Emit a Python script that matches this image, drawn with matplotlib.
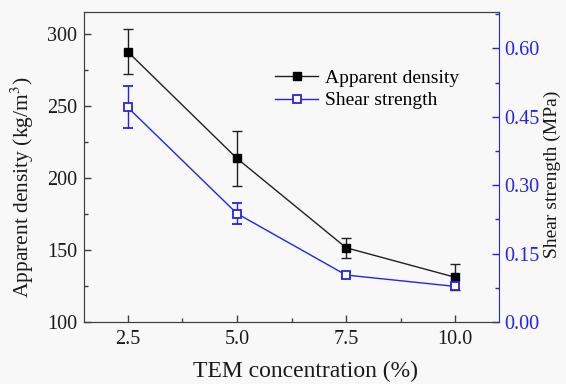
import matplotlib
matplotlib.use("Agg")
import matplotlib.pyplot as plt
from matplotlib.lines import Line2D
from matplotlib.ticker import MultipleLocator

# data
tem = [2.5, 5.0, 7.5, 10.0]
density = [287.5, 213.5, 151.5, 131.0]
density_err = [15.5, 19.0, 7.0, 9.0]
shear = [0.471, 0.238, 0.103, 0.078]
shear_err = [0.046, 0.022, 0.006, 0.006]

plt.rcParams["font.family"] = ["Liberation Serif", "DejaVu Serif"]
plt.rcParams["mathtext.fontset"] = "stix"

BG = "#f8f8f8"
DARK = "#404040"
BLUE = "#2424e8"
TXT = "#1a1a1a"

fig = plt.figure(figsize=(5.66, 3.84), dpi=100, facecolor=BG)
ax = fig.add_axes([84 / 566, 1 - 322 / 384, (499 - 84) / 566, (322 - 12) / 384])
ax.set_facecolor(BG)
ax2 = ax.twinx()

ax.errorbar(tem, density, yerr=density_err, color="#202020", lw=1.0,
            marker="s", ms=6, mfc="black", mec="black",
            capsize=3.5, elinewidth=1.0, capthick=1.0)
ax2.errorbar(tem, shear, yerr=shear_err, color=BLUE, lw=1.0,
             marker="s", ms=6, mfc="white", mec=BLUE, mew=1.3,
             capsize=3.5, elinewidth=1.0, capthick=1.0)

ax.set_xlim(1.5, 11.0)
ax.set_ylim(100, 315)
ax2.set_ylim(0, 0.68)

ax.set_xticks(tem)
ax.set_xticklabels(["2.5", "5.0", "7.5", "10.0"])
ax.xaxis.set_minor_locator(MultipleLocator(1.25))
ax.set_yticks([100, 150, 200, 250, 300])
ax.yaxis.set_minor_locator(MultipleLocator(25))
ax2.set_yticks([0.0, 0.15, 0.30, 0.45, 0.60])
ax2.set_yticklabels(["0.00", "0.15", "0.30", "0.45", "0.60"])
ax2.yaxis.set_minor_locator(MultipleLocator(0.075))

ax.tick_params(axis="both", which="major", direction="in", length=5,
               width=1, colors=DARK, labelsize=14.5, labelcolor=TXT, pad=5)
ax.tick_params(axis="x", which="major", pad=6)
ax.tick_params(axis="both", which="minor", direction="in", length=3,
               width=1, colors=DARK)
ax.tick_params(axis="x", which="both", top=False)
ax2.tick_params(axis="y", which="major", direction="in", length=5, width=1,
                colors=BLUE, labelsize=14.5, pad=4)
ax2.tick_params(axis="y", which="minor", direction="in", length=3, width=1,
                colors=BLUE)

for name in ["left", "top", "bottom"]:
    ax.spines[name].set_color(DARK)
    ax2.spines[name].set_color(DARK)
ax2.spines["right"].set_color(BLUE)
ax.spines["right"].set_visible(False)

ax.set_xlabel("TEM concentration (%)", fontsize=17, color=TXT, labelpad=8)
ax.xaxis.label.set_x(0.533)
ax.set_ylabel("Apparent density (kg/m$^3$)", fontsize=15.5, color=TXT, labelpad=8)
ax.yaxis.label.set_y(0.435)
ax2.set_ylabel("Shear strength (MPa)", fontsize=14, color=TXT, labelpad=3)
ax2.yaxis.label.set_y(0.477)

handles = [
    Line2D([], [], color="#202020", lw=1.0, marker="s", ms=6, mfc="black", mec="black"),
    Line2D([], [], color=BLUE, lw=1.0, marker="s", ms=6, mfc="white", mec=BLUE, mew=1.3),
]
ax.legend(handles, ["Apparent density", "Shear strength"],
          loc="upper left", bbox_to_anchor=(0.428, 0.859), frameon=False,
          fontsize=14, handlelength=2.2, handletextpad=0.35,
          labelspacing=0.25, borderpad=0.2)

fig.savefig("out.png", dpi=100, facecolor=BG)
